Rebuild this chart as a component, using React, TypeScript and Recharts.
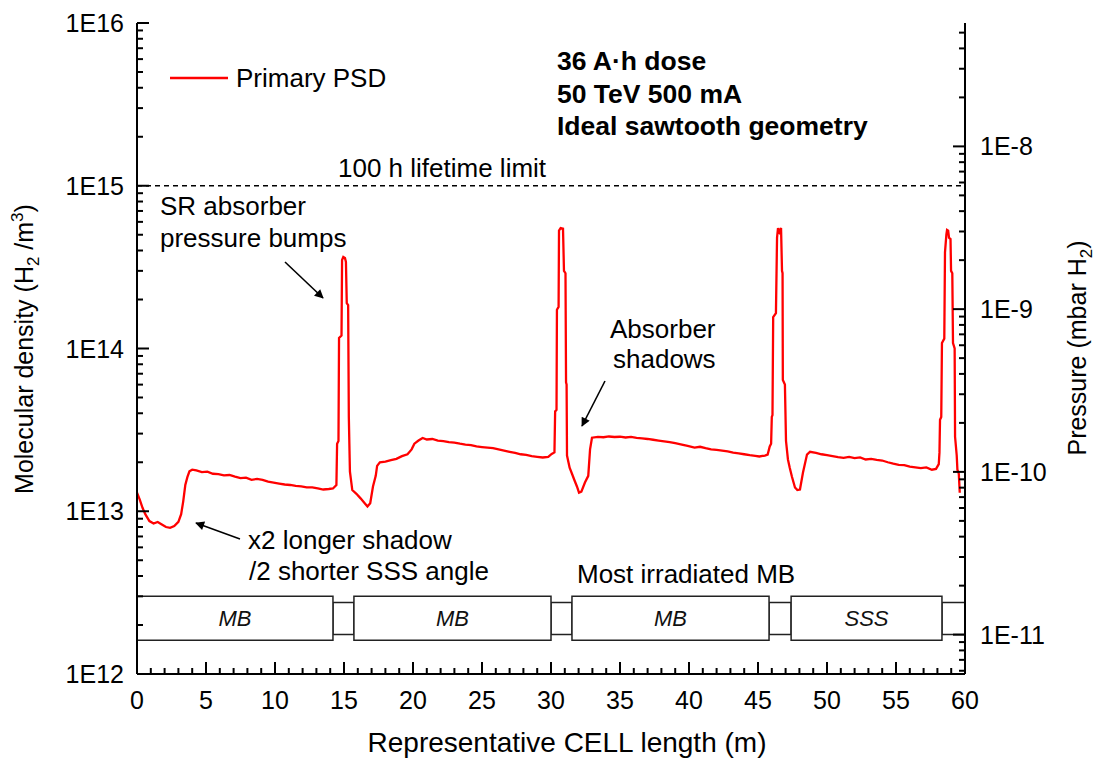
import React from 'react';
import { ComposedChart, Line, XAxis, YAxis, ReferenceLine, ReferenceArea } from 'recharts';

const FONT = 'Arial, "Liberation Sans", Helvetica, sans-serif';
const RED = '#ff0000';

// position along the representative cell (m)
const position = [
  0.0, 0.2, 0.4, 0.6, 0.9, 1.2, 1.5, 1.8, 2.1, 2.4, 2.7, 3.0, 3.2, 3.35, 3.5, 3.65, 3.8,
  4.0, 4.3, 4.7, 5.1, 5.5, 5.9, 6.3, 6.7, 7.1, 7.5, 7.9, 8.3, 8.7, 9.1, 9.5, 9.9, 10.3,
  10.7, 11.1, 11.5, 11.9, 12.3, 12.7, 13.1, 13.5, 13.9, 14.2, 14.45, 14.5, 14.6, 14.64,
  14.82, 14.86, 14.95, 15.07, 15.14, 15.2, 15.3, 15.35, 15.43, 15.6, 15.9, 16.2, 16.5,
  16.7, 16.9, 17.1, 17.3, 17.4, 17.6, 18.0, 18.4, 18.8, 19.2, 19.6, 19.9, 20.1, 20.4,
  20.7, 21.0, 21.4, 21.8, 22.2, 22.6, 23.0, 23.4, 23.8, 24.2, 24.6, 25.0, 25.4, 25.8,
  26.2, 26.6, 27.0, 27.4, 27.8, 28.2, 28.6, 29.0, 29.4, 29.8, 30.05, 30.25, 30.3, 30.4,
  30.43, 30.55, 30.58, 30.7, 30.87, 30.94, 31.05, 31.09, 31.13, 31.16, 31.35, 31.52,
  31.7, 31.88, 32.03, 32.2, 32.46, 32.7, 32.83, 32.97, 33.4, 33.8, 34.2, 34.6, 35.0,
  35.4, 35.8, 36.2, 36.6, 37.0, 37.4, 37.8, 38.2, 38.6, 39.0, 39.4, 39.9, 40.4, 40.8,
  41.2, 41.6, 42.0, 42.4, 42.8, 43.2, 43.6, 44.0, 44.4, 44.8, 45.1, 45.5, 45.7, 45.85,
  45.95, 46.0, 46.05, 46.1, 46.3, 46.38, 46.45, 46.55, 46.67, 46.74, 46.78, 46.8, 46.95,
  47.03, 47.17, 47.3, 47.46, 47.68, 47.85, 48.04, 48.26, 48.55, 48.77, 49.2, 49.6, 50.0,
  50.4, 50.8, 51.2, 51.6, 52.0, 52.4, 52.8, 53.2, 53.6, 54.0, 54.4, 54.8, 55.2, 55.6,
  56.0, 56.4, 56.8, 57.2, 57.6, 57.9, 58.1, 58.15, 58.19, 58.28, 58.33, 58.5, 58.55,
  58.65, 58.7, 58.78, 58.84, 58.95, 58.99, 59.08, 59.13, 59.25, 59.28, 59.4, 59.45,
  59.55, 59.62,
];

// H2 molecular density from primary photon stimulated desorption (m^-3)
const density = [
  1.30e13, 1.18e13, 1.05e13, 9.6e12, 8.7e12, 8.4e12, 8.6e12, 8.3e12, 8.0e12, 7.9e12, 8.1e12,
  8.6e12, 9.6e12, 1.15e13, 1.45e13, 1.62e13, 1.76e13,
  1.80e13, 1.78e13, 1.74e13, 1.75e13, 1.70e13, 1.69e13, 1.66e13, 1.67e13, 1.63e13, 1.60e13,
  1.61e13, 1.56e13, 1.58e13, 1.56e13, 1.52e13, 1.50e13, 1.48e13,
  1.46e13, 1.45e13, 1.43e13, 1.42e13, 1.40e13, 1.40e13, 1.38e13, 1.36e13, 1.37e13, 1.38e13,
  1.45e13, 2.6e13, 2.7e13, 1.16e14,
  1.2e14, 3.5e14, 3.65e14, 3.6e14, 3.4e14, 1.9e14, 1.85e14, 3.8e13, 1.75e13, 1.35e13,
  1.28e13, 1.2e13, 1.12e13,
  1.07e13, 1.12e13, 1.42e13, 1.65e13, 1.9e13, 2.0e13, 2.02e13, 2.06e13, 2.1e13, 2.18e13,
  2.24e13, 2.4e13, 2.6e13, 2.72e13,
  2.82e13, 2.76e13, 2.78e13, 2.72e13, 2.70e13, 2.66e13, 2.64e13, 2.60e13, 2.57e13, 2.55e13,
  2.50e13, 2.48e13, 2.46e13, 2.44e13,
  2.40e13, 2.36e13, 2.32e13, 2.28e13, 2.24e13, 2.22e13, 2.18e13, 2.16e13, 2.14e13, 2.16e13,
  2.25e13, 2.3e13, 4.1e13, 4.2e13,
  1.73e14, 1.8e14, 5.3e14, 5.5e14, 5.45e14, 3.0e14, 2.9e14, 6.2e13, 6.0e13, 2.2e13,
  1.85e13, 1.7e13,
  1.55e13, 1.42e13, 1.30e13, 1.32e13, 1.50e13, 1.65e13, 2.4e13, 2.83e13, 2.86e13, 2.85e13,
  2.88e13, 2.86e13, 2.87e13,
  2.84e13, 2.86e13, 2.82e13, 2.80e13, 2.78e13, 2.75e13, 2.72e13, 2.69e13, 2.66e13, 2.62e13,
  2.58e13, 2.52e13, 2.46e13, 2.49e13,
  2.44e13, 2.40e13, 2.38e13, 2.36e13, 2.33e13, 2.29e13, 2.27e13, 2.24e13, 2.21e13, 2.19e13,
  2.17e13, 2.20e13, 2.23e13, 2.5e13,
  2.6e13, 3.8e13, 3.9e13, 1.56e14, 1.65e14, 4.8e14, 5.5e14, 5.2e14, 5.5e14, 3.0e14, 2.9e14,
  6.4e13, 6.0e13,
  2.7e13, 2.08e13, 1.85e13, 1.63e13, 1.40e13, 1.35e13, 1.36e13, 1.73e13, 2.23e13, 2.32e13,
  2.28e13, 2.24e13, 2.21e13,
  2.18e13, 2.15e13, 2.13e13, 2.16e13, 2.12e13, 2.14e13, 2.08e13, 2.10e13, 2.07e13, 2.05e13,
  2.00e13, 1.96e13, 1.93e13, 1.92e13,
  1.88e13, 1.86e13, 1.84e13, 1.86e13, 1.80e13, 1.82e13, 1.95e13, 2.3e13, 3.65e13, 3.8e13,
  1.08e14, 1.15e14, 3.9e14,
  5.0e14, 5.35e14, 5.3e14, 4.8e14, 4.7e14, 3.0e14, 2.9e14, 1.08e14, 1.0e14, 2.87e13, 2.2e13,
  1.8e13, 1.7e13, 1.3e13,
];

const xMajorTicks = [0, 5, 10, 15, 20, 25, 30, 35, 40, 45, 50, 55, 60];
const densityDecades = [1e12, 1e13, 1e14, 1e15, 1e16];
const pressureDecades = [1e-12, 1e-11, 1e-10, 1e-9, 1e-8];
const lifetimeLimit = 1e15;
// mbar of H2 per molecule/m^3 at the beam screen temperature
const PRESSURE_PER_DENSITY = 5.73e-24;

const magnets = [
  { name: 'MB', from: 0, to: 14.2 },
  { name: 'MB', from: 15.72, to: 30.0 },
  { name: 'MB', from: 31.52, to: 45.8 },
  { name: 'SSS', from: 47.4, to: 58.33 },
];
const interconnects = [
  { from: 14.2, to: 15.72 },
  { from: 30.0, to: 31.52 },
  { from: 45.8, to: 47.4 },
  { from: 58.33, to: 60 },
];
const magnetBand = [1.61e12, 3.0e12];
const interconnectBand = [1.75e12, 2.75e12];

const data = position.map((x, i) => ({ x, n: density[i] }));

const densityDomain = [1e12, 1e16];
const pressureDomain = [densityDomain[0] * PRESSURE_PER_DENSITY, densityDomain[1] * PRESSURE_PER_DENSITY];

const withMinors = (decades: number[], lo: number, hi: number) =>
  decades
    .flatMap((d) => [1, 2, 3, 4, 5, 6, 7, 8, 9].map((k) => k * d))
    .filter((v) => v >= lo * 0.999 && v <= hi * 1.001);

const densityTicks = withMinors(densityDecades, densityDomain[0], densityDomain[1]);
const pressureTicks = withMinors(pressureDecades, pressureDomain[0], pressureDomain[1]);
const xTicks = xMajorTicks.flatMap((t) => [0, 1, 2, 3, 4].map((k) => t + k)).filter((v) => v <= 60);

const isDecade = (v: number) => {
  const l = Math.log10(v);
  return Math.abs(l - Math.round(l)) < 1e-6;
};
const sci = (v: number) => `1E${Math.round(Math.log10(v))}`;

const tickText = { fontFamily: FONT, fontSize: 25, fill: '#000' };

const LeftTick = (props: any) => {
  const { x, y, payload } = props;
  const major = isDecade(payload.value);
  return (
    <g>
      <line x1={x} x2={x + (major ? 12 : 6)} y1={y} y2={y} stroke="#000" strokeWidth={2} />
      {major && (
        <text x={x - 13} y={y + 9} textAnchor="end" {...tickText}>
          {sci(payload.value)}
        </text>
      )}
    </g>
  );
};

const RightTick = (props: any) => {
  const { x, y, payload } = props;
  const major = isDecade(payload.value);
  return (
    <g>
      <line x1={x} x2={x - (major ? 12 : 6)} y1={y} y2={y} stroke="#000" strokeWidth={2} />
      {major && (
        <text x={x + 15} y={y + 9} textAnchor="start" {...tickText}>
          {sci(payload.value)}
        </text>
      )}
    </g>
  );
};

const BottomTick = (props: any) => {
  const { x, y, payload } = props;
  const major = payload.value % 5 === 0;
  return (
    <g>
      <line x1={x} x2={x} y1={y} y2={y - (major ? 12 : 6)} stroke="#000" strokeWidth={2} />
      {major && (
        <text x={x} y={y + 35} textAnchor="middle" {...tickText}>
          {payload.value}
        </text>
      )}
    </g>
  );
};

const TopTick = (props: any) => {
  const { x, y, payload } = props;
  const major = payload.value % 5 === 0;
  return <line x1={x} x2={x} y1={y} y2={y + (major ? 12 : 6)} stroke="#000" strokeWidth={2} />;
};

const Note = ({ x, y, children, weight, size = 26 }: { x: number; y: number; children: React.ReactNode; weight?: string; size?: number }) => (
  <text x={x} y={y} fontFamily={FONT} fontSize={size} fontWeight={weight} fill="#000">
    {children}
  </text>
);

const Arrow = ({ x1, y1, x2, y2 }: { x1: number; y1: number; x2: number; y2: number }) => (
  <line x1={x1} y1={y1} x2={x2} y2={y2} stroke="#000" strokeWidth={1.6} markerEnd="url(#arrowHead)" />
);

export default function App() {
  return (
    <div style={{ position: 'absolute', left: 0, top: 0, width: 1096, height: 758, background: '#fff' }}>
      <ComposedChart width={1096} height={758} data={data} margin={{ top: 23, right: 51, bottom: 0, left: 57 }}>
        <XAxis
          xAxisId="x"
          dataKey="x"
          type="number"
          domain={[0, 60]}
          ticks={xTicks}
          interval={0}
          height={84}
          tickSize={0}
          tickMargin={0}
          axisLine={{ stroke: '#000', strokeWidth: 2 }}
          tick={<BottomTick />}
          allowDataOverflow
        />
        <XAxis
          xAxisId="top"
          orientation="top"
          type="number"
          domain={[0, 60]}
          ticks={xTicks}
          interval={0}
          height={0}
          tickSize={0}
          tickMargin={0}
          axisLine={{ stroke: '#000', strokeWidth: 2 }}
          tick={<TopTick />}
          allowDataOverflow
        />
        <YAxis
          yAxisId="n"
          type="number"
          scale="log"
          domain={densityDomain}
          ticks={densityTicks}
          interval={0}
          width={80}
          tickSize={0}
          tickMargin={0}
          axisLine={{ stroke: '#000', strokeWidth: 2 }}
          tick={<LeftTick />}
          allowDataOverflow
        />
        <YAxis
          yAxisId="p"
          orientation="right"
          type="number"
          scale="log"
          domain={pressureDomain}
          ticks={pressureTicks}
          interval={0}
          width={80}
          tickSize={0}
          tickMargin={0}
          axisLine={{ stroke: '#000', strokeWidth: 2 }}
          tick={<RightTick />}
          allowDataOverflow
        />
        {interconnects.map((c, i) => (
          <ReferenceArea
            key={`ic${i}`}
            xAxisId="x"
            yAxisId="n"
            x1={c.from}
            x2={c.to}
            y1={interconnectBand[0]}
            y2={interconnectBand[1]}
            fill="#fff"
            fillOpacity={1}
            stroke="#222"
            strokeWidth={1.5}
          />
        ))}
        {magnets.map((m, i) => (
          <ReferenceArea
            key={`mg${i}`}
            xAxisId="x"
            yAxisId="n"
            x1={m.from}
            x2={m.to}
            y1={magnetBand[0]}
            y2={magnetBand[1]}
            fill="#fff"
            fillOpacity={1}
            stroke="#222"
            strokeWidth={1.5}
            label={{ value: m.name, position: 'center', fontFamily: FONT, fontSize: 22, fontStyle: 'italic', fill: '#111' }}
          />
        ))}
        <ReferenceLine xAxisId="x" yAxisId="n" y={lifetimeLimit} stroke="#000" strokeWidth={1.6} strokeDasharray="5 4" />
        <Line
          xAxisId="x"
          yAxisId="n"
          dataKey="n"
          type="linear"
          stroke={RED}
          strokeWidth={2.3}
          dot={false}
          isAnimationActive={false}
        />
      </ComposedChart>

      <svg width={1096} height={758} style={{ position: 'absolute', left: 0, top: 0, pointerEvents: 'none' }}>
        <defs>
          <marker id="arrowHead" viewBox="0 0 10 10" refX="9" refY="5" markerWidth="15" markerHeight="9" markerUnits="userSpaceOnUse" orient="auto">
            <path d="M0,0 L10,5 L0,10 z" fill="#000" />
          </marker>
        </defs>

        {/* legend */}
        <line x1={170} x2={228} y1={78} y2={78} stroke={RED} strokeWidth={2.3} />
        <Note x={236} y={87}>Primary PSD</Note>

        <Note x={557} y={70} weight="bold" size={26.5}>36 A·h dose</Note>
        <Note x={557} y={103} weight="bold" size={26.5}>50 TeV 500 mA</Note>
        <Note x={557} y={135} weight="bold" size={26.5}>Ideal sawtooth geometry</Note>

        <Note x={338} y={177}>100 h lifetime limit</Note>

        <Note x={160} y={215}>SR absorber</Note>
        <Note x={160} y={247}>pressure bumps</Note>
        <Arrow x1={285} y1={262} x2={323} y2={298} />

        <Note x={610} y={338}>Absorber</Note>
        <Note x={613} y={368}>shadows</Note>
        <Arrow x1={605} y1={381} x2={582} y2={426} />

        <Note x={248} y={549}>x2 longer shadow</Note>
        <Note x={249} y={580}>/2 shorter SSS angle</Note>
        <Arrow x1={240} y1={539} x2={196} y2={523} />

        <Note x={577} y={583}>Most irradiated MB</Note>

        {/* axis titles */}
        <text x={567} y={752} textAnchor="middle" fontFamily={FONT} fontSize={28} fill="#000">
          Representative CELL length (m)
        </text>
        <text transform="translate(33,349) rotate(-90)" textAnchor="middle" fontFamily={FONT} fontSize={25} fill="#000">
          <tspan>Molecular density (H</tspan>
          <tspan fontSize={17} dy={6}>2</tspan>
          <tspan dy={-6}> /m</tspan>
          <tspan fontSize={17} dy={-10}>3</tspan>
          <tspan dy={10}>)</tspan>
        </text>
        <text transform="translate(1086,348) rotate(-90)" textAnchor="middle" fontFamily={FONT} fontSize={25} fill="#000">
          <tspan>Pressure (mbar H</tspan>
          <tspan fontSize={17} dy={6}>2</tspan>
          <tspan dy={-6}>)</tspan>
        </text>
      </svg>
    </div>
  );
}
